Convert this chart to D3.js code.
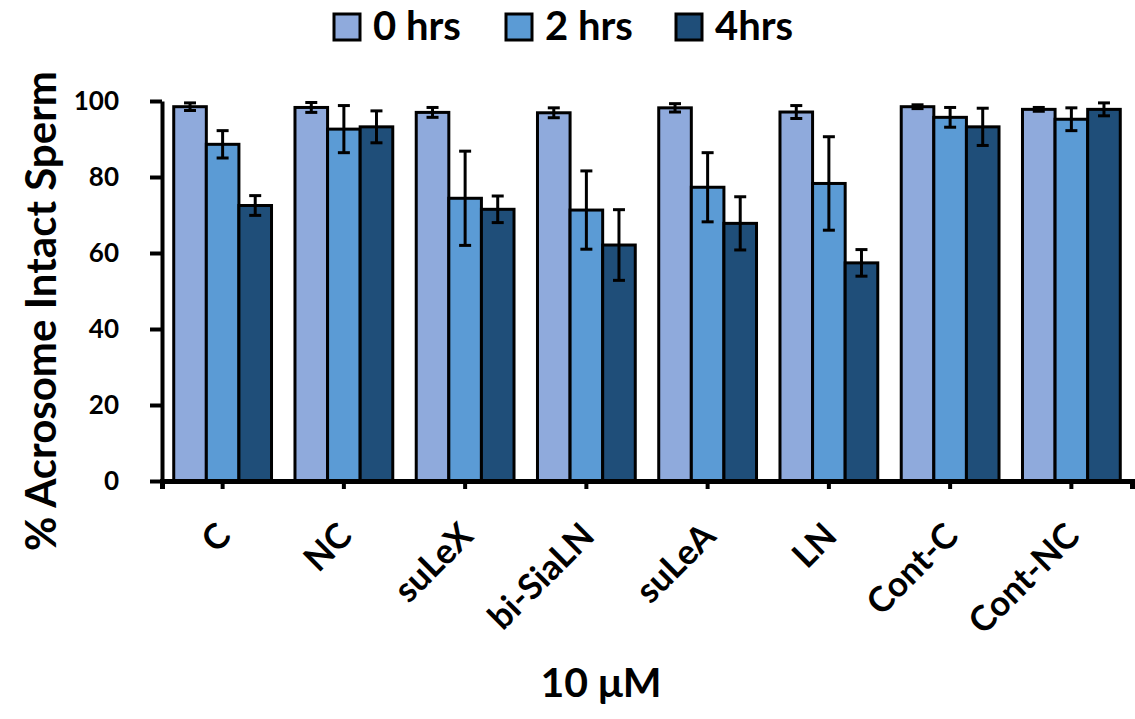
<!DOCTYPE html>
<html>
<head>
<meta charset="utf-8">
<script src="https://cdn.jsdelivr.net/npm/d3@7"></script>
<style>
  body { margin: 0; background: #fff; }
  svg text { font-family: Lato, "Open Sans", sans-serif; font-weight: bold; fill: #000; }
</style>
</head>
<body>
<div id="chart"></div>
<script>
/* data */
var categories = ["C", "NC", "suLeX", "bi-SiaLN", "suLeA", "LN", "Cont-C", "Cont-NC"];
var series = ["0 hrs", "2 hrs", "4hrs"];
var values0 = [98.5, 98.3, 97.0, 96.9, 98.2, 97.1, 98.5, 97.8];
var values2 = [88.6, 92.6, 74.4, 71.3, 77.3, 78.3, 95.7, 95.2];
var values4 = [72.5, 93.2, 71.5, 62.1, 67.8, 57.4, 93.2, 97.8];
var err0 = [1.0, 1.3, 1.3, 1.3, 1.1, 1.7, 0.5, 0.5];
var err2 = [3.6, 6.2, 12.4, 10.3, 9.1, 12.3, 2.6, 3.0];
var err4 = [2.6, 4.2, 3.5, 9.3, 7.0, 3.5, 4.9, 1.7];
var yTicks = [0, 20, 40, 60, 80, 100];
var colors = ["#8FAADC", "#5B9BD5", "#1F4E79"];

var width = 1135,
    height = 719;
var margin = { top: 101, right: 3, bottom: 238, left: 162 };

var svg = d3.select("#chart")
    .append("svg")
    .attr("width", width)
    .attr("height", height);

/* scales */
var x0 = d3.scaleBand()
    .domain(categories)
    .range([margin.left, width - margin.right]);

var x1 = d3.scaleBand()
    .domain(series)
    .range([0, x0.bandwidth()])
    .paddingOuter(0.36);

var y = d3.scaleLinear()
    .domain([0, 100])
    .range([height - margin.bottom, margin.top]);

var color = d3.scaleOrdinal().domain(series).range(colors);

/* build rows from the arrays */
var vals = [values0, values2, values4];
var errs = [err0, err2, err4];
var rows = [];
categories.forEach(function (c, i) {
    series.forEach(function (s, j) {
        rows.push({ cat: c, ser: s, value: vals[j][i], err: errs[j][i] });
    });
});

/* bars */
svg.append("g").selectAll("rect")
    .data(rows)
    .enter().append("rect")
    .attr("x", function (d) { return x0(d.cat) + x1(d.ser); })
    .attr("y", function (d) { return y(d.value); })
    .attr("width", x1.bandwidth())
    .attr("height", function (d) { return y(0) - y(d.value); })
    .attr("fill", function (d) { return color(d.ser); })
    .attr("stroke", "#000")
    .attr("stroke-width", 3);

/* error bars */
var eb = svg.append("g").selectAll("g")
    .data(rows)
    .enter().append("g")
    .attr("stroke", "#000")
    .attr("stroke-width", 3);

function cx(d) { return x0(d.cat) + x1(d.ser) + x1.bandwidth() / 2; }

eb.append("line")
    .attr("x1", cx).attr("x2", cx)
    .attr("y1", function (d) { return y(d.value + d.err); })
    .attr("y2", function (d) { return y(d.value - d.err); });
eb.append("line")
    .attr("x1", function (d) { return cx(d) - 6; })
    .attr("x2", function (d) { return cx(d) + 6; })
    .attr("y1", function (d) { return y(d.value + d.err); })
    .attr("y2", function (d) { return y(d.value + d.err); });
eb.append("line")
    .attr("x1", function (d) { return cx(d) - 6; })
    .attr("x2", function (d) { return cx(d) + 6; })
    .attr("y1", function (d) { return y(d.value - d.err); })
    .attr("y2", function (d) { return y(d.value - d.err); });

/* y axis */
var yAxis = d3.axisLeft(y)
    .tickValues(yTicks)
    .tickSize(12)
    .tickPadding(31)
    .tickSizeOuter(0);

var gy = svg.append("g")
    .attr("transform", "translate(" + margin.left + ",0)")
    .call(yAxis);
gy.select(".domain").attr("stroke-width", 4).attr("stroke", "#000");
gy.selectAll(".tick line").attr("stroke-width", 4).attr("stroke", "#000");
gy.selectAll(".tick text").attr("font-family", null).attr("font-size", null).style("font-size", "26px");

/* x axis */
var xAxis = d3.axisBottom(x0)
    .tickSize(8)
    .tickSizeOuter(8)
    .tickFormat("");

var gx = svg.append("g")
    .attr("transform", "translate(0," + y(0) + ")")
    .call(xAxis);
gx.select(".domain").attr("stroke-width", 5).attr("stroke", "#000");
gx.selectAll(".tick line").attr("stroke-width", 4).attr("stroke", "#000");

/* rotated category labels */
var cl = svg.append("g").selectAll("g")
    .data(categories)
    .enter().append("g")
    .attr("transform", function (d) {
        return "translate(" + (x0(d) + x0.bandwidth() / 2 + 10) + "," + (y(0) + 57) + ")";
    });
cl.append("text")
    .attr("transform", "rotate(-45)")
    .attr("text-anchor", "end")
    .style("font-size", "35px")
    .text(function (d) { return d; });

/* axis titles */
svg.append("text")
    .attr("transform", "translate(56,311) rotate(-90)")
    .attr("text-anchor", "middle")
    .style("font-size", "42px")
    .text("% Acrosome Intact Sperm");

svg.append("text")
    .attr("x", 601)
    .attr("y", 697)
    .attr("text-anchor", "middle")
    .style("font-size", "41px")
    .text("10 \u03bcM");

/* legend */
var legendX = [334, 506, 676];
var lg = svg.append("g").selectAll("g")
    .data(series)
    .enter().append("g")
    .attr("transform", function (d, i) { return "translate(" + legendX[i] + ",14)"; });

lg.append("rect")
    .attr("width", 26)
    .attr("height", 26)
    .attr("fill", function (d) { return color(d); })
    .attr("stroke", "#000")
    .attr("stroke-width", 3);

lg.append("text")
    .attr("x", 39)
    .attr("y", 26)
    .style("font-size", "40px")
    .text(function (d) { return d; });
</script>
</body>
</html>
